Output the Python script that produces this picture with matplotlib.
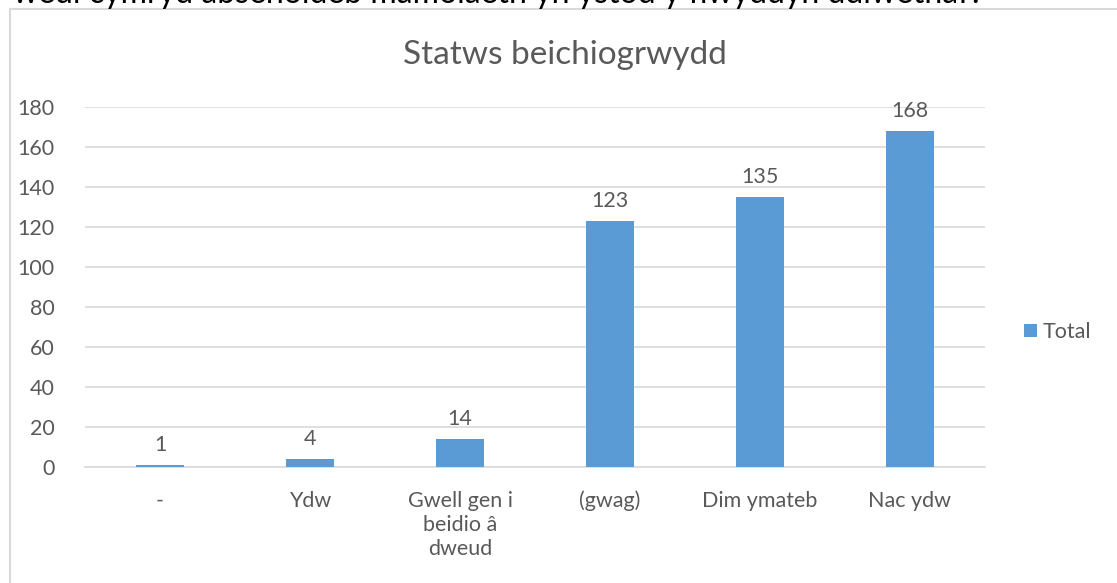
import matplotlib.pyplot as plt
from matplotlib.lines import Line2D

# Pregnancy status counts
categories = ['-', 'Ydw', 'Gwell gen i\nbeidio â\ndweud', '(gwag)', 'Dim ymateb', 'Nac ydw']
totals = [1, 4, 14, 123, 135, 168]
y_ticks = [0, 20, 40, 60, 80, 100, 120, 140, 160, 180]

BAR_COLOR = '#5b9bd5'
TEXT_COLOR = '#595959'
GRID_COLOR = '#d9d9d9'
FS = 15.5

plt.rcParams['font.family'] = ['Lato', 'DejaVu Sans']

fig = plt.figure(figsize=(11.17, 5.83), dpi=100)
ax = fig.add_axes([85 / 1117, 1 - 467 / 583, 900 / 1117, 360 / 583])

x = list(range(len(categories)))
bars = ax.bar(x, totals, width=0.32, color=BAR_COLOR, label='Total', zorder=3)

for xi, v in zip(x, totals):
    ax.annotate(str(v), (xi, v), xytext=(0, 7), textcoords='offset points',
                ha='center', va='bottom', fontsize=FS, color=TEXT_COLOR)

ax.set_xlim(-0.5, len(categories) - 0.5)
ax.set_ylim(0, 180)
ax.set_yticks(y_ticks)
ax.set_xticks(x)
ax.set_xticklabels(categories, fontsize=FS, color=TEXT_COLOR, linespacing=1.25)
ax.tick_params(axis='y', labelsize=FS, labelcolor=TEXT_COLOR, length=0, pad=22)
ax.tick_params(axis='x', length=0, pad=17)
ax.grid(axis='y', color=GRID_COLOR, linewidth=1.2, zorder=0)
for s in ['top', 'right', 'left']:
    ax.spines[s].set_visible(False)
ax.spines['bottom'].set_color(GRID_COLOR)
ax.spines['bottom'].set_linewidth(1.2)

fig.text(565 / 1117, 1 - 55 / 583, 'Statws beichiogrwydd', ha='center', va='center',
         fontsize=24, color=TEXT_COLOR)

leg = fig.legend(handles=[bars], labels=['Total'], loc='center left',
                 bbox_to_anchor=(1005 / 1117, 1 - 332 / 583), frameon=False,
                 fontsize=FS, handlelength=0.6, handleheight=0.6, handletextpad=0.25)
for t in leg.get_texts():
    t.set_color(TEXT_COLOR)

# chart frame (cut off at right/bottom) and clipped question text above
fig.add_artist(Line2D([10 / 1117, 10 / 1117], [0, 1 - 9 / 583], color=GRID_COLOR, linewidth=1.5))
fig.add_artist(Line2D([10 / 1117, 1], [1 - 9 / 583, 1 - 9 / 583], color=GRID_COLOR, linewidth=1.5))
fig.text(13 / 1117, 1 - 3 / 583, 'wedi cymryd absenoldeb mamolaeth yn ystod y flwyddyn ddiwethaf?',
         ha='left', va='baseline', fontsize=23, color='black')

fig.savefig('out.png', dpi=100, facecolor='white')
